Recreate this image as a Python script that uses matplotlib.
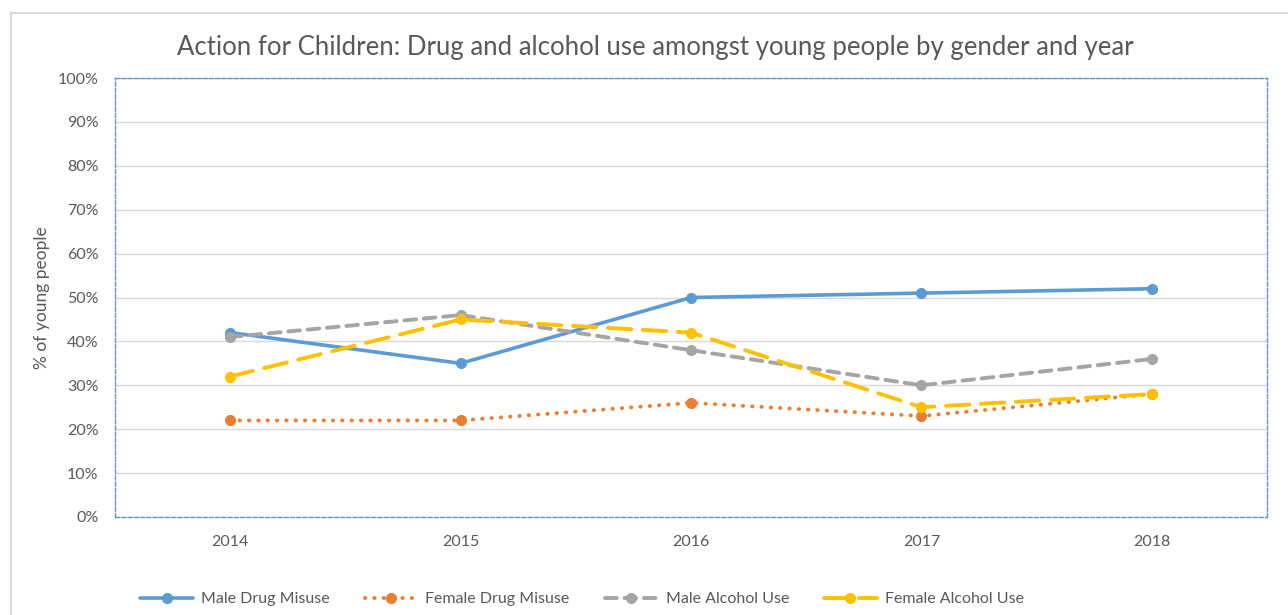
import matplotlib.pyplot as plt
from matplotlib.patches import Rectangle
from matplotlib.ticker import PercentFormatter

# data
years = ['2014', '2015', '2016', '2017', '2018']
male_drug = [42, 35, 50, 51, 52]
female_drug = [22, 22, 26, 23, 28]
male_alcohol = [41, 46, 38, 30, 36]
female_alcohol = [32, 45, 42, 25, 28]

plt.rcParams['font.family'] = ['Lato', 'DejaVu Sans']
txt = '#595959'

fig = plt.figure(figsize=(12.88, 6.15), dpi=100)
# outer chart frame
fig.patches.append(Rectangle((11/1288, -0.05), 1.1, 1 - 13/615 + 0.05,
                             transform=fig.transFigure, fill=False,
                             edgecolor='#d9d9d9', lw=1.5))

ax = fig.add_axes([115/1288, 1 - 517/615, 1152/1288, 439/615])
x = range(len(years))

ax.plot(x, male_drug, color='#5b9bd5', lw=2.6, marker='o', ms=7,
        solid_capstyle='round', label='Male Drug Misuse')
ax.plot(x, female_drug, color='#ed7d31', lw=2.8, ls=(0, (0.1, 2.3)),
        dash_capstyle='round', marker='o', ms=7, label='Female Drug Misuse')
ax.plot(x, male_alcohol, color='#a5a5a5', lw=2.8, ls=(0, (3, 2)),
        dash_capstyle='round', marker='o', ms=7, label='Male Alcohol Use')
ax.plot(x, female_alcohol, color='#ffc000', lw=2.8, ls=(0, (6, 3)),
        dash_capstyle='round', marker='o', ms=7, label='Female Alcohol Use')

ax.set_xlim(-0.5, len(years) - 0.5)
ax.set_ylim(0, 100)
ax.set_yticks(range(0, 101, 10))
ax.yaxis.set_major_formatter(PercentFormatter(decimals=0))
ax.set_xticks(list(x))
ax.set_xticklabels(years)
ax.tick_params(length=0, labelsize=11.5, colors=txt)
ax.tick_params(axis='x', pad=13)
ax.tick_params(axis='y', pad=12)
ax.grid(axis='y', color='#d9d9d9', lw=1)
ax.set_axisbelow(True)
for s in ax.spines.values():
    s.set_color('#5b9bd5')
    s.set_linestyle((0, (3, 1.5)))
    s.set_linewidth(1)

ax.set_ylabel('% of young people', fontsize=12.5, color=txt)
ax.yaxis.set_label_coords(-65/1152, 0.5)

fig.text(655/1288, 1 - 47/615,
         'Action for Children: Drug and alcohol use amongst young people by gender and year',
         ha='center', va='center', fontsize=18.5, color=txt)

fig.legend(loc='center', bbox_to_anchor=(582/1288, 1 - 599/615), ncol=4,
           frameon=False, fontsize=11.5, labelcolor=txt, handlelength=3.3,
           columnspacing=2.2, handletextpad=0.5)

fig.savefig('out.png', dpi=100)
